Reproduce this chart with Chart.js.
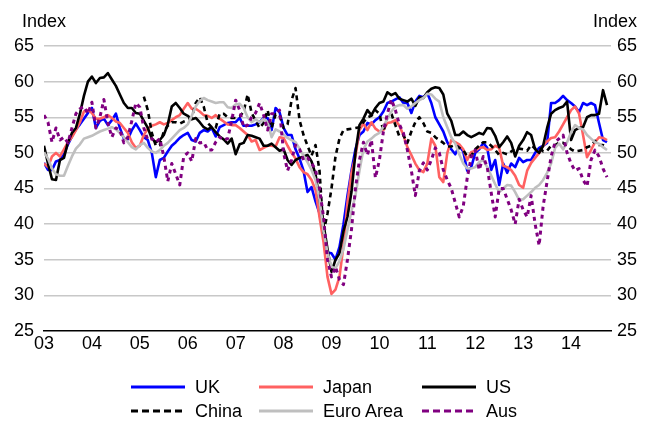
<!DOCTYPE html>
<html>
<head>
<meta charset="utf-8">
<script src="https://cdn.jsdelivr.net/npm/chart.js@4/dist/chart.umd.min.js"></script>
<style>
  body { margin: 0; background: #fff; }
  #wrap { position: relative; width: 657px; height: 427px; font-family: "Liberation Sans", Arial, sans-serif; color: #000; }
  #chart { position: absolute; left: 0; top: 0; }
  .idx { position: absolute; top: 12px; font-size: 18px; line-height: 18px; }
  .leg { position: absolute; display: flex; align-items: center; font-size: 18px; line-height: 18px; white-space: nowrap; }
  .leg svg { margin-right: 10px; }
</style>
</head>
<body>
<div id="wrap">
  <canvas id="chart" width="657" height="427"></canvas>
  <div class="idx" style="left:22px;">Index</div>
  <div class="idx" style="right:20px;">Index</div>
  <div id="legend"></div>
</div>
<script>
// tick labels (year, every 12 months starting Jan 2003)
const yearLabels = ['03', '04', '05', '06', '07', '08', '09', '10', '11', '12', '13', '14'];

// monthly index values, Jan 2003 - Oct 2014
const ukData = [
  48.6, 47.6, 47.6, 48.8, 49, 49.8, 51.2, 52.3, 53.3, 54, 54.8, 55.6,
  56.3, 53.5, 54.5, 54.8, 53.9, 54.6, 55.5, 53.5, 52, 51.9, 53.2, 54.1,
  53.2, 52.2, 51.8, 50, 46.6, 49, 49.3, 50.2, 51, 51.5, 52.1, 52.5,
  52.8, 51.8, 51.6, 52.8, 53.2, 53, 53.5, 52.3, 53.6, 53.9, 54.2, 54.3,
  54.3, 54.9, 53.8, 53.8, 53.8, 54, 54.3, 54.9, 54.9, 53.2, 56.3, 55.7,
  53.5, 52.5, 52.5, 50.5, 49.2, 47.5, 44.5, 45.2, 43.2, 41.5, 38.5, 36,
  35.9, 35, 36.8, 40, 44, 47.5, 50.5, 52.5, 53, 54.2, 54, 54.6,
  55, 55.8, 57, 57.2, 57.5, 57.8, 57, 57, 55.6, 57.2, 58, 57.8,
  58.4, 57, 55, 54, 53, 51.5, 50.5, 49.8, 51, 50.2, 47.5, 48,
  50, 50.5, 51.4, 50.7, 47.6, 49, 45.5, 48.5, 47.2, 48.5, 48, 49.3,
  48.7, 49, 49, 50, 50.7, 51, 51.4, 57, 57, 57.4, 58, 57.4,
  57, 56.5, 55.7, 57, 56.7, 57, 56.7, 54.2, 51.8, 51.5
];
const japanData = [
  48.5, 48, 49.5, 50, 49.5, 50.5, 51.5, 52.2, 53.2, 54.3, 55.8, 56,
  55.6, 54.8, 54.8, 55, 55.3, 54.9, 54.4, 54.2, 53.5, 52.8, 51.5, 50.7,
  51, 52.5, 53.4, 53.8, 54, 54.3, 54, 54.2, 54.6, 55, 55.3, 56.2,
  57, 56.2, 56.2, 55.8, 55.3, 55.2, 54.9, 55.3, 54.8, 54.4, 54, 53.9,
  53.9, 53.5, 53, 52.5, 51.6, 51.8, 50.4, 50.7, 51, 51, 50.9, 52.2,
  52.1, 51, 50, 49.2, 48, 47.3, 47, 46.2, 44.8, 41, 37.5, 32.6,
  30.2, 30.8, 32.6, 37, 43, 47.2, 49.5, 53.2, 54.1, 53.2, 54.3, 53.4,
  53, 53.2, 54.2, 54.3, 54.6, 53.8, 52.5, 50.8, 49.7, 48.5, 47.6, 47.3,
  48.5, 52, 51, 46.6, 45.9, 50, 51.8, 51.5, 51.2, 50.5, 49, 50.1,
  50.3, 50.7, 50.8, 50.4, 50.5, 51, 50.7, 48.2, 48, 47.6, 46.8, 45.5,
  45.1, 47.5, 48.6, 49.3, 50, 51, 51.6, 52.1, 52.2, 53, 54, 55,
  56, 56.5, 55.5, 52.5, 49.4, 50.4, 51.5, 52.2, 52.1, 51.8
];
const usData = [
  51, 48.5, 46.3, 46.2, 49, 49.3, 51.5, 52.8, 53.5, 55.5, 58, 60,
  60.7, 59.8, 60.5, 60.6, 61.2, 60.3, 59.4, 58.2, 57, 56.3, 56.3, 55.6,
  55.5, 54.5, 53.5, 52, 51.5, 51.8, 52.5, 54, 56.5, 57, 56.3, 55.5,
  55.2, 54.7, 54.9, 54.3, 53.6, 53.3, 53.6, 52.9, 52.3, 51.9, 51.3, 52,
  49.8, 51.2, 51.4, 52.5, 52.4, 52.2, 52, 51, 51, 51.3, 50.8, 50.3,
  50.5, 49, 48.3, 49, 49.3, 49.5, 49.7, 48.8, 47, 43.4, 40, 36.5,
  33.3, 35, 35.9, 39, 41, 44.5, 50, 53.9, 54.8, 56, 55.3, 56.3,
  57, 57.2, 58.5, 58.1, 58.4, 57.6, 57.4, 57.2, 57.6, 56.6, 57.8, 57.7,
  58.5, 59, 59.2, 59.1, 58.2, 55.5, 54.5, 52.5, 52.5, 53, 52.5, 52.2,
  52.5, 52.8, 52.6, 53.5, 53.4, 52.4, 50.8, 51.5, 52.3, 51.4, 49.5, 51,
  51.8, 52.9, 52.5, 50.5, 50, 51, 53.5, 55.5, 56, 56.3, 56.5, 57.2,
  51.8, 53.2, 53.5, 53.6, 55, 55.3, 55.3, 55.5, 58.8, 56.7
];
const chinaData = [
  null, null, null, null, null, null, null, null, null, null, null, null,
  null, null, null, null, null, null, null, null, null, null, null, null,
  null, 57.9, 56, 52.8, 51, 51.1, 53, 53.8, 54.3, 54.3, 54.1, 54.4,
  54.6, 54.9, 57, 57.8, 56.5, 54.2, 53.6, 53.5, 55.5, 55.5, 55, 54.9,
  54.9, 55.1, 55.8, 58.2, 55.6, 54.5, 53.5, 54.2, 56, 53.5, 55.4, 55.3,
  53.5, 54, 57.4, 59.1, 54.6, 52.5, 51, 49.6, 51.1, 47.5, 38.8, 41.5,
  45, 49.5, 52, 53.2, 53.3, 53.4, 53.5, 53.6, 54.3, 55, 55.2, 56,
  55.5, 53, 55, 55.5, 53.9, 52.3, 52.5, 51.4, 53, 54.3, 55, 54.2,
  53, 52.8, 52.2, 51.8, 51.4, 50.9, 50.9, 51.1, 50.7, 50.4, 49.5, 49.6,
  50.5, 51, 51.5, 51.5, 51, 50.4, 49.7, 50, 49.8, 50.2, 50.6, 50.6,
  50.5, 50.3, 51.1, 50.6, 50.8, 50.2, 50.3, 51, 51.1, 51.4, 51.4, 51,
  50.5, 50.2, 50.3, 50.4, 50.8, 51, 51.7, 51.1, 51.1, 50.8
];
const euroData = [
  50.1, 49.2, 47.8, 47, 46.8, 46.8, 48.2, 49.5, 50.6, 51.2, 52, 52.2,
  52.4, 52.7, 53, 53.2, 53.4, 53.6, 53.3, 52.8, 52.2, 51.5, 50.8, 50.5,
  51.1, 51.4, 50.7, 50.2, 50, 50.4, 51, 51.4, 52, 52.6, 53.2, 53.5,
  54, 55.2, 56.5, 57.3, 57.7, 57.4, 57.2, 57, 57.1, 57.1, 56.4, 56.3,
  56.8, 56.9, 56.3, 55, 54.3, 54.7, 54.3, 54.8, 54.3, 52.2, 53.3, 53,
  52.6, 52.1, 51.8, 51.5, 50.6, 49.6, 48.7, 47.6, 46.2, 43.5, 39, 36,
  34, 33.8, 34.8, 36.5, 39.2, 41.8, 44, 47.5, 50.5, 51.6, 52, 52.5,
  52.8, 53.7, 54.8, 55.8, 56.5, 56.7, 56.7, 56.2, 56.5, 57, 57.4, 57.7,
  58.3, 58.2, 57.6, 57.2, 55, 53.6, 52.2, 51.3, 49.8, 48.5, 47.8, 47.8,
  48, 48.7, 49, 48, 46.8, 45.6, 44.5, 45, 45.5, 45.4, 44.5, 43.4,
  43.5, 44, 44.5, 45.1, 45.5, 46.2, 47.2, 48.5, 50.7, 51.3, 50.5, 51.5,
  52.9, 53.9, 53.5, 53.3, 52.5, 52, 51.5, 51.3, 50.8, 50.4
];
const ausData = [
  55.3, 54.3, 51.5, 53.5, 51.8, 52.2, 51.4, 53.5, 55.5, 56.2, 56.5, 55.5,
  57.1, 53.5, 55, 57.5, 54.2, 52.2, 53.5, 53.2, 51.4, 52.2, 54.5, 57,
  56.4, 53.5, 51.8, 52, 51.5, 52, 49.5, 46, 48.5, 47, 45.5, 49.5,
  50, 48.8, 52, 51.4, 51.5, 50.4, 50.4, 51.5, 52.2, 51.8, 52, 54.5,
  57.4, 56, 53.6, 53.9, 55, 55.6, 57, 55.3, 53.2, 55.5, 55.5, 56,
  50, 47.5, 49, 51.1, 50.5, 49, 49.3, 48.6, 47.6, 45, 41, 35,
  32.6, 34, 32.2, 31.5, 35, 39.2, 45, 49, 51.5, 49.7, 51.8, 46.5,
  49, 53, 55.5, 57.5, 56, 54, 52.8, 50.4, 47.5, 44, 47.5, 48.6,
  47.6, 49, 50.7, 50, 47.6, 46.2, 45, 43, 41, 42.5, 46.5, 49.4,
  50.4, 47.6, 49.5, 48, 44.4, 41, 45, 45, 43.5, 42, 40, 43.5,
  42, 41, 44, 40, 37, 42.5, 46, 49.5, 51.5, 52, 52.5, 50,
  48.5, 47.5, 47.8, 46.2, 45.3, 49, 50.4, 49.5, 47.8, 46.6
];

const seriesNames = ['UK', 'Japan', 'US', 'China', 'Euro Area', 'Aus'];
const seriesColors = ['#0000FF', '#FF6161', '#000000', '#000000', '#BFBFBF', '#800080'];
const seriesDash = [[], [], [], [5, 4], [], [4, 4]];
const seriesData = [ukData, japanData, usData, chinaData, euroData, ausData];

const toPoints = arr => arr.map((v, i) => ({ x: i, y: v }));

const datasets = seriesNames.map((name, k) => ({
  label: name,
  data: toPoints(seriesData[k]),
  borderColor: seriesColors[k],
  backgroundColor: seriesColors[k],
  borderWidth: k === 5 ? 3 : 2.6,
  borderDash: seriesDash[k],
  borderJoinStyle: 'round',
  pointRadius: 0,
  tension: 0,
  fill: false,
  spanGaps: false,
  order: seriesNames.length - k   // later series drawn on top
}));

const tickFont = { family: '"Liberation Sans", Arial, sans-serif', size: 18 };

new Chart(document.getElementById('chart').getContext('2d'), {
  type: 'line',
  data: { datasets: datasets },
  options: {
    responsive: false,
    animation: false,
    layout: { padding: { top: 46, bottom: 66, left: 0, right: 0 } },
    plugins: { legend: { display: false }, tooltip: { enabled: false } },
    scales: {
      x: {
        type: 'linear',
        min: 0,
        max: 142,
        afterBuildTicks: s => { s.ticks = yearLabels.map((l, k) => ({ value: k * 12 })); },
        afterFit: s => { s.height = 30; },
        ticks: {
          autoSkip: false,
          maxRotation: 0,
          padding: 2,
          color: '#000',
          font: tickFont,
          callback: v => yearLabels[Math.round(v / 12)]
        },
        grid: { display: false, drawTicks: false },
        border: { display: true, color: '#000', width: 1.5 }
      },
      y: {
        position: 'left',
        min: 25,
        max: 65,
        afterFit: s => { s.width = 44; },
        ticks: { stepSize: 5, padding: 10, color: '#000', font: tickFont },
        grid: {
          drawTicks: false,
          color: c => c.tick && c.tick.value === 25 ? 'rgba(0,0,0,0)' : '#C8C8C8',
          lineWidth: 1.5
        },
        border: { display: false }
      },
      y2: {
        position: 'right',
        min: 25,
        max: 65,
        afterFit: s => { s.width = 46; },
        ticks: { stepSize: 5, padding: 6, color: '#000', font: tickFont },
        grid: { display: false, drawTicks: false },
        border: { display: false }
      }
    }
  }
});

// legend: 3 columns x 2 rows
const legendCols = [131, 259, 422];
const legendRows = [387, 411];
const legend = document.getElementById('legend');
seriesNames.forEach((name, k) => {
  const item = document.createElement('div');
  item.className = 'leg';
  item.style.left = legendCols[k % 3] + 'px';
  item.style.top = (legendRows[Math.floor(k / 3)] - 9) + 'px';
  const dash = seriesDash[k].length ? 'stroke-dasharray="7 4"' : '';
  item.innerHTML = '<svg width="54" height="6"><line x1="0" y1="3" x2="54" y2="3" stroke="' +
    seriesColors[k] + '" stroke-width="3" ' + dash + '/></svg><span>' + name + '</span>';
  legend.appendChild(item);
});
</script>
</body>
</html>
